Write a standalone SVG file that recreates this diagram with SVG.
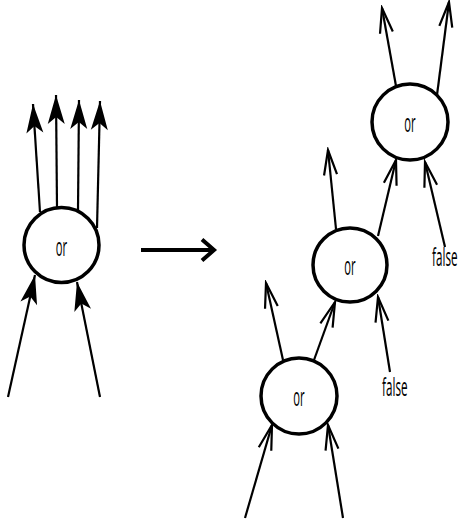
<svg xmlns="http://www.w3.org/2000/svg" width="459" height="525" viewBox="0 0 459 525">
<style>
.node{fill:#fff;stroke:#000;stroke-width:3.5}
.lbl{font-family:"Open Sans","Liberation Sans",sans-serif;font-size:26px;fill:#000}
.c{text-anchor:middle}
.e{stroke:#000;stroke-width:2.2;fill:none}
.ef{marker-end:url(#filled)}
.eo{marker-end:url(#open)}
</style>
<defs>
<marker id="filled" markerUnits="userSpaceOnUse" viewBox="-31 -10 33 20" markerWidth="33" markerHeight="20" refX="0" refY="0" orient="auto">
<path d="M0,0 L-29,-8.5 L-22,0 L-29,8.5 Z" fill="#000"/>
</marker>
<marker id="open" markerUnits="userSpaceOnUse" viewBox="-30 -10 33 20" markerWidth="33" markerHeight="20" refX="0" refY="0" orient="auto">
<path d="M-25,-6.5 L0,0 L-25,6.5" fill="none" stroke="#000" stroke-width="2.2"/>
</marker>
<marker id="chev" markerUnits="userSpaceOnUse" viewBox="-16 -14 20 28" markerWidth="20" markerHeight="28" refX="0" refY="0" orient="auto">
<path d="M-12,-10.5 L0,0 L-12,10.5" fill="none" stroke="#000" stroke-width="4"/>
</marker>
</defs>
<g id="connectors">
<line class="e ef" x1="40" y1="212" x2="33" y2="104"/>
<line class="e ef" x1="57" y1="208" x2="56" y2="95"/>
<line class="e ef" x1="78" y1="210" x2="79" y2="100"/>
<line class="e ef" x1="97" y1="228" x2="100" y2="101"/>
<line class="e ef" x1="8" y1="397" x2="35" y2="275"/>
<line class="e ef" x1="100" y1="397" x2="77" y2="282"/>
<line x1="141" y1="250" x2="214" y2="250" stroke="#000" stroke-width="4" marker-end="url(#chev)"/>
<line class="e eo" x1="396" y1="86" x2="382" y2="8"/>
<line class="e eo" x1="437" y1="95" x2="449" y2="2"/>
<line class="e eo" x1="336" y1="229" x2="328" y2="150"/>
<line class="e eo" x1="378" y1="236" x2="396" y2="160"/>
<line class="e eo" x1="445" y1="247" x2="425" y2="162"/>
<line class="e eo" x1="283" y1="360" x2="266" y2="283"/>
<line class="e eo" x1="314" y1="360" x2="335" y2="302"/>
<line class="e eo" x1="390" y1="372" x2="378" y2="297"/>
<line class="e eo" x1="245" y1="518" x2="272" y2="425"/>
<line class="e eo" x1="343" y1="518" x2="328" y2="425"/>
</g>
<g id="or-left">
<circle class="node" cx="61.5" cy="245" r="37.5"/>
<text class="lbl c" transform="translate(61.5,256) scale(0.43,1)">or</text>
</g>
<g id="or-top">
<circle class="node" cx="410" cy="122" r="38"/>
<text class="lbl c" transform="translate(410,132) scale(0.43,1)">or</text>
</g>
<g id="or-middle">
<circle class="node" cx="350" cy="265" r="37"/>
<text class="lbl c" transform="translate(350,275) scale(0.43,1)">or</text>
</g>
<g id="or-bottom">
<circle class="node" cx="299" cy="396" r="38"/>
<text class="lbl c" transform="translate(299,406) scale(0.43,1)">or</text>
</g>
<g id="false-top">
<text class="lbl" transform="translate(432,266) scale(0.45,1)">false</text>
</g>
<g id="false-bottom">
<text class="lbl" transform="translate(382,396) scale(0.45,1)">false</text>
</g>
</svg>
